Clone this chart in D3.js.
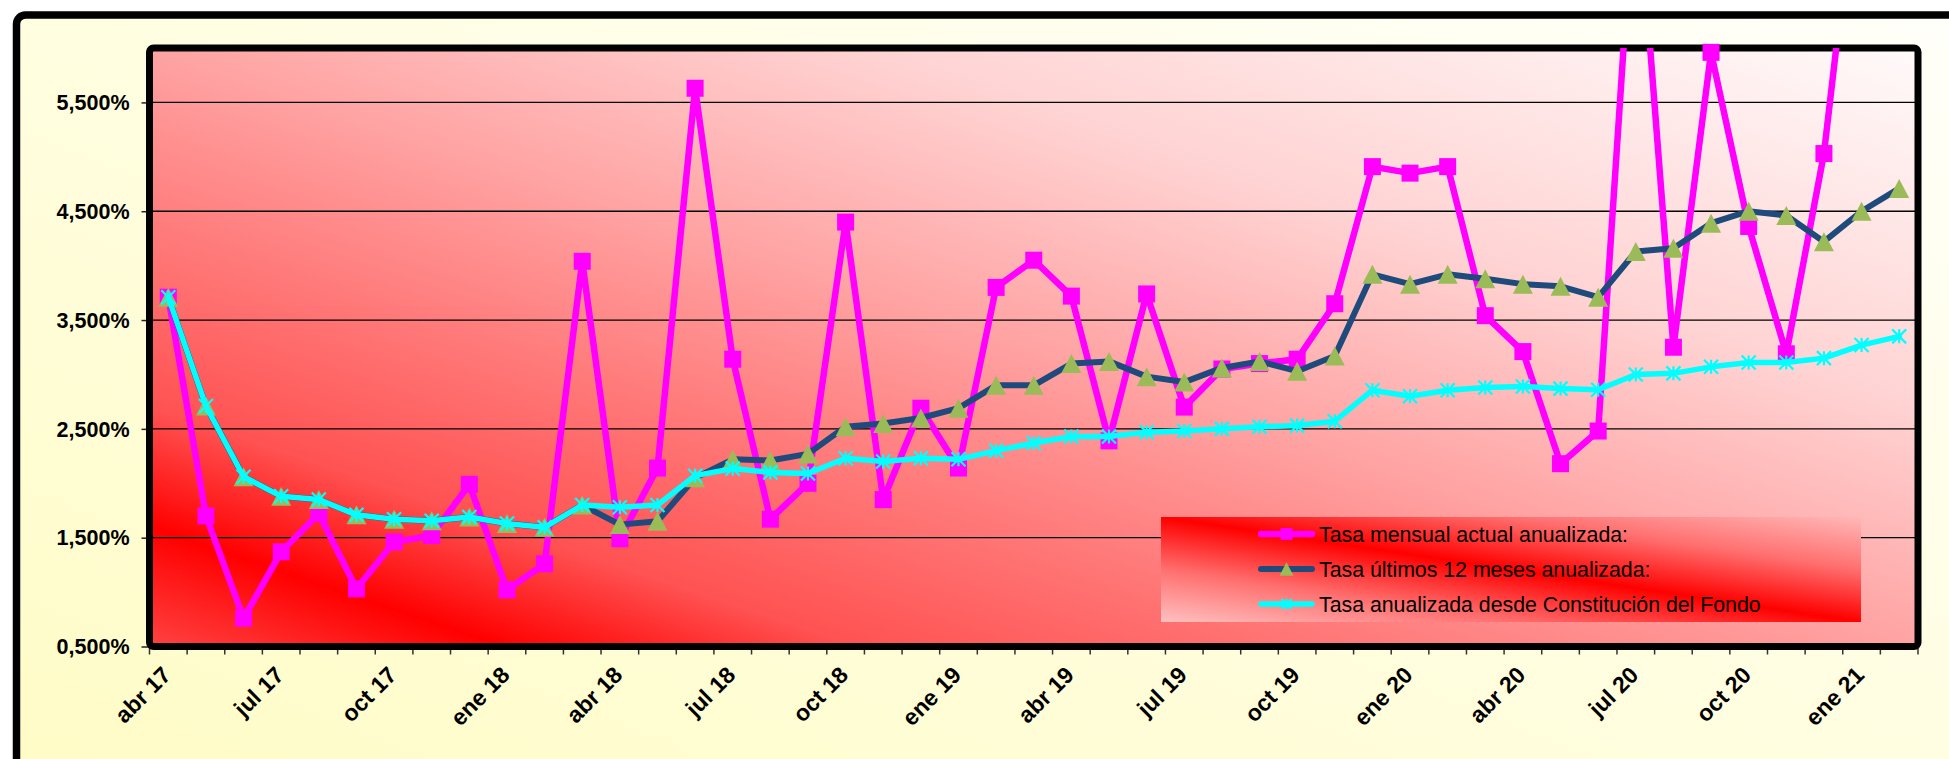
<!DOCTYPE html>
<html><head><meta charset="utf-8">
<script src="https://cdn.jsdelivr.net/npm/d3@7"></script>
<style>html,body{margin:0;padding:0;background:#fff;overflow:hidden}</style>
</head><body><svg id="c" width="1949" height="759"></svg>
<script>
// ---------- DATA ----------
const categories = ["abr 17","may 17","jun 17","jul 17","ago 17","sep 17","oct 17","nov 17","dic 17",
  "ene 18","feb 18","mar 18","abr 18","may 18","jun 18","jul 18","ago 18","sep 18","oct 18","nov 18","dic 18",
  "ene 19","feb 19","mar 19","abr 19","may 19","jun 19","jul 19","ago 19","sep 19","oct 19","nov 19","dic 19",
  "ene 20","feb 20","mar 20","abr 20","may 20","jun 20","jul 20","ago 20","sep 20","oct 20","nov 20","dic 20",
  "ene 21","feb 21"];
const tickLabels = ["abr 17","jul 17","oct 17","ene 18","abr 18","jul 18","oct 18","ene 19","abr 19",
  "jul 19","oct 19","ene 20","abr 20","jul 20","oct 20","ene 21"];
const yTicks = [0.5, 1.5, 2.5, 3.5, 4.5, 5.5];
const seriesNames = ["Tasa mensual actual anualizada:","Tasa últimos 12 meses anualizada:","Tasa anualizada desde Constitución del Fondo"];
const mensual = [3.71,1.70,0.76,1.37,1.72,1.03,1.46,1.52,1.99,1.02,1.26,4.04,1.49,2.14,5.63,3.14,1.67,2.00,4.40,1.85,
  2.69,2.14,3.80,4.05,3.72,2.39,3.74,2.70,3.05,3.10,3.14,3.65,4.91,4.85,4.91,3.54,3.21,2.18,2.48,7.70,
  3.25,5.96,4.36,3.19,5.03,8.00,7.00];
const ultimos12 = [3.71,2.71,2.06,1.88,1.85,1.71,1.67,1.655,1.69,1.63,1.595,1.80,1.62,1.65,2.05,2.22,2.21,2.27,2.52,2.55,
  2.60,2.69,2.90,2.90,3.10,3.12,2.98,2.93,3.06,3.12,3.03,3.17,3.92,3.83,3.92,3.88,3.83,3.81,3.71,4.13,
  4.16,4.39,4.50,4.46,4.22,4.50,4.71];
const constitucion = [3.71,2.71,2.06,1.88,1.85,1.71,1.67,1.655,1.69,1.63,1.595,1.80,1.78,1.80,2.07,2.135,2.10,2.09,2.23,2.20,
  2.23,2.22,2.30,2.37,2.43,2.43,2.47,2.48,2.50,2.52,2.53,2.57,2.855,2.80,2.855,2.88,2.89,2.87,2.86,3.00,
  3.01,3.07,3.11,3.11,3.15,3.27,3.35];

// ---------- LAYOUT ----------
const svg = d3.select("#c");
const P = {l:149.5, r:1918, t:48, b:646.5};
const FONT = "'Liberation Sans', Arial, sans-serif";
const defs = svg.append("defs");

function grad(id, stops){
  const g = defs.append("linearGradient").attr("id", id)
    .attr("x1",0).attr("y1",1).attr("x2",1).attr("y2",0);
  stops.forEach(s => g.append("stop").attr("offset", s[0]).attr("stop-color", s[1]));
}
grad("bgGrad", [[0,"#FFFCC6"],[1,"#FFFFFA"]]);
grad("plotGrad", [[0,"#FF4242"],[0.1,"#FF0000"],[0.2,"#FF5252"],[0.5,"#FFA3A3"],[0.7,"#FFD3D3"],[1,"#FFFAFA"]]);
grad("legGrad", [[0,"#FFC0C0"],[0.25,"#FF7070"],[0.5,"#FF0000"],[0.75,"#FF7070"],[1,"#FFB8B8"]]);

defs.append("clipPath").attr("id","clip").append("rect")
  .attr("x", P.l).attr("y", P.t).attr("width", P.r-P.l).attr("height", P.b-P.t);

// chart area
svg.append("rect").attr("x",16.5).attr("y",15).attr("width",1960).attr("height",780)
  .attr("rx",9).attr("fill","url(#bgGrad)").attr("stroke","#000").attr("stroke-width",7.5);

// scales
const x = d3.scaleBand().domain(categories).range([P.l, P.r]).padding(0);
const bw = x.bandwidth();
const cx = c => x(c) + bw/2;
const y = d3.scaleLinear().domain([0.5, 6]).range([P.b, P.t]);

// plot area background
svg.append("rect").attr("x",P.l).attr("y",P.t).attr("width",P.r-P.l).attr("height",P.b-P.t)
  .attr("fill","url(#plotGrad)");

// gridlines
svg.append("g").selectAll("line").data(yTicks.slice(1)).join("line")
  .attr("x1",P.l).attr("x2",P.r).attr("y1",d=>y(d)).attr("y2",d=>y(d))
  .attr("stroke","#000").attr("stroke-width",1.3);

// y axis
const yAxis = svg.append("g").attr("transform",`translate(${P.l},0)`)
  .call(d3.axisLeft(y).tickValues(yTicks).tickSize(8).tickPadding(12)
    .tickFormat(d => d3.format(".3f")(d).replace(".", ",") + "%"));
yAxis.select(".domain").remove();
yAxis.selectAll("line").attr("stroke","#222").attr("stroke-width",1.5);
yAxis.selectAll("text").attr("font-family",FONT).attr("font-weight","bold")
  .attr("font-size",21.5).attr("fill","#000").attr("dy","0.34em");

// x axis ticks (category boundaries)
const bounds = categories.map(c => x(c)).concat([x.range()[1]]);
svg.append("g").selectAll("line").data(bounds).join("line")
  .attr("x1",d=>d).attr("x2",d=>d).attr("y1",P.b).attr("y2",P.b+8)
  .attr("stroke","#333").attr("stroke-width",1.5);

// x labels
svg.append("g").selectAll("text").data(tickLabels).join("text")
  .attr("transform", d => `translate(${cx(d)+4},${P.b+30}) rotate(-45)`)
  .attr("text-anchor","end").attr("font-family",FONT).attr("font-weight","bold")
  .attr("font-size",23).attr("fill","#000").text(d=>d);

// plot frame
svg.append("rect").attr("x",P.l).attr("y",P.t).attr("width",P.r-P.l).attr("height",P.b-P.t)
  .attr("rx",4).attr("fill","none").attr("stroke","#000").attr("stroke-width",7);

// ---------- SERIES ----------
const line = d3.line().x((d,i)=>cx(categories[i])).y(d=>y(d));
const styles = [
  {data: mensual, color:"#FF00FF", width:6.5, marker:"square"},
  {data: ultimos12, color:"#1F4A7C", width:6, marker:"triangle", mfill:"#9BBB59"},
  {data: constitucion, color:"#00FFFF", width:5.5, marker:"star"}
];
function drawMarker(g, type, st, scale){
  scale = scale || 1;
  if(type==="square"){
    const a = 17*scale;
    g.append("rect").attr("x",-a/2).attr("y",-a/2).attr("width",a).attr("height",a).attr("fill",st.color);
  } else if(type==="triangle"){
    const w = 20*scale, h = 19*scale;
    g.append("path").attr("d",`M0,${-h/2}L${w/2},${h/2}L${-w/2},${h/2}Z`).attr("fill",st.mfill);
  } else {
    const r = 7*scale;
    g.append("path").attr("d",`M${-r},${-r}L${r},${r}M${-r},${r}L${r},${-r}M0,${-r}L0,${r}`)
      .attr("stroke",st.color).attr("stroke-width",2.2).attr("fill","none");
  }
}
styles.forEach(st => {
  const g = svg.append("g");
  g.append("path").attr("d", line(st.data)).attr("clip-path","url(#clip)")
    .attr("fill","none").attr("stroke",st.color).attr("stroke-width",st.width)
    .attr("stroke-linejoin","round").attr("stroke-linecap","round");
  st.data.forEach((v,i) => {
    if (v > 6) return;
    const m = g.append("g").attr("transform",`translate(${cx(categories[i])},${y(v)})`);
    drawMarker(m, st.marker, st);
  });
});

// ---------- LEGEND ----------
const L = {x:1161, y:517, w:700, h:105};
const leg = svg.append("g");
leg.append("rect").attr("x",L.x).attr("y",L.y).attr("width",L.w).attr("height",L.h).attr("fill","url(#legGrad)");
const rowY = [534, 569, 604];
seriesNames.forEach((name,i) => {
  const st = styles[i];
  leg.append("line").attr("x1",1261).attr("x2",1312).attr("y1",rowY[i]).attr("y2",rowY[i])
    .attr("stroke",st.color).attr("stroke-width",st.width).attr("stroke-linecap","round");
  const m = leg.append("g").attr("transform",`translate(1286.5,${rowY[i]})`);
  drawMarker(m, st.marker, st, 0.7);
  leg.append("text").attr("x",1319).attr("y",rowY[i]+7.5).attr("font-family",FONT)
    .attr("font-size",21.3).attr("fill","#000").text(name);
});
</script></body></html>
